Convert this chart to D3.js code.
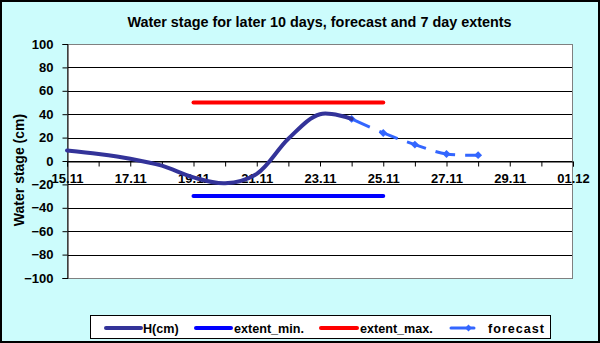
<!DOCTYPE html>
<html>
<head>
<meta charset="utf-8">
<script src="https://cdn.jsdelivr.net/npm/d3@7"></script>
<style>
  body { margin: 0; background: #fff; }
  svg { display: block; font-family: "Liberation Sans", Arial, sans-serif; font-weight: bold; }
</style>
</head>
<body>
<div id="chart"></div>
<script>
// Water stage chart: observed H, 7 day extents and forecast

const hDates = ["2010-11-15", "2010-11-16", "2010-11-17", "2010-11-18", "2010-11-19",
                "2010-11-20", "2010-11-21", "2010-11-22", "2010-11-23", "2010-11-24"];
const hValues = [9, 6, 2, -4, -14, -19, -11, 19, 40, 36];

const forecastDates = ["2010-11-24", "2010-11-25", "2010-11-26", "2010-11-27", "2010-11-28"];
const forecastValues = [36, 24, 14, 6, 5];

const extentDates = ["2010-11-19", "2010-11-25"];
const extentMin = [-30, -30];
const extentMax = [50, 50];

const yTicks = [100, 80, 60, 40, 20, 0, -20, -40, -60, -80, -100];
const xDomain = ["2010-11-15", "2010-12-01"];

const parse = d3.timeParse("%Y-%m-%d");

function createVisualization() {
    const svgWidth = 600;
    const svgHeight = 343;
    const plot = { left: 67, right: 573, top: 44, bottom: 278 };

    const svg = d3.select("#chart")
        .append("svg")
        .attr("width", svgWidth)
        .attr("height", svgHeight);

    // Background
    svg.append("rect")
        .attr("x", 1).attr("y", 1)
        .attr("width", svgWidth - 2).attr("height", svgHeight - 2)
        .attr("fill", "#ccfcfc")
        .attr("stroke", "#000")
        .attr("stroke-width", 2);

    // Scales
    const x = d3.scaleTime()
        .domain(xDomain.map(parse))
        .range([plot.left, plot.right]);

    const y = d3.scaleLinear()
        .domain([-100, 100])
        .range([plot.bottom, plot.top]);

    // Plot area
    svg.append("rect")
        .attr("x", plot.left).attr("y", plot.top)
        .attr("width", plot.right - plot.left)
        .attr("height", plot.bottom - plot.top)
        .attr("fill", "#fff");

    // Gridlines
    svg.append("g")
        .selectAll("line")
        .data(yTicks)
        .enter().append("line")
        .attr("x1", plot.left).attr("x2", plot.right)
        .attr("y1", d => Math.round(y(d)) + 0.5)
        .attr("y2", d => Math.round(y(d)) + 0.5)
        .attr("stroke", "#000");

    // Plot border
    svg.append("rect")
        .attr("x", plot.left + 0.5).attr("y", plot.top + 0.5)
        .attr("width", plot.right - plot.left - 1)
        .attr("height", plot.bottom - plot.top)
        .attr("fill", "none")
        .attr("stroke", "#808080");

    // Y axis
    const yAxis = d3.axisLeft(y)
        .tickValues(yTicks)
        .tickSize(5)
        .tickPadding(9);

    const gy = svg.append("g")
        .attr("transform", `translate(${plot.left + 0.5},0)`)
        .call(yAxis);
    gy.select(".domain").attr("stroke", "#000");
    gy.selectAll(".tick line").attr("stroke", "#000");
    gy.selectAll("text")
        .attr("font-family", "Liberation Sans, Arial, sans-serif")
        .attr("font-weight", "bold")
        .attr("font-size", 13)
        .attr("fill", "#000");

    // X axis on the zero line
    const xAxis = d3.axisBottom(x)
        .ticks(d3.timeDay.every(1))
        .tickSize(5)
        .tickPadding(7)
        .tickFormat((d, i) => i % 2 === 0 ? d3.timeFormat("%d.%m")(d) : "");

    const gx = svg.append("g")
        .attr("transform", `translate(0,${Math.round(y(0)) + 0.5})`)
        .call(xAxis);
    gx.select(".domain").attr("stroke", "#000");
    gx.selectAll(".tick line").attr("stroke", "#000");
    gx.selectAll("text")
        .attr("font-family", "Liberation Sans, Arial, sans-serif")
        .attr("font-weight", "bold")
        .attr("font-size", 13)
        .attr("fill", "#000");

    // Lines
    const hData = hDates.map((d, i) => ({ date: parse(d), value: hValues[i] }));
    const fData = forecastDates.map((d, i) => ({ date: parse(d), value: forecastValues[i] }));
    const minData = extentDates.map((d, i) => ({ date: parse(d), value: extentMin[i] }));
    const maxData = extentDates.map((d, i) => ({ date: parse(d), value: extentMax[i] }));

    const smooth = d3.line()
        .x(d => x(d.date))
        .y(d => y(d.value))
        .curve(d3.curveCatmullRom.alpha(0.5));

    const straight = d3.line()
        .x(d => x(d.date))
        .y(d => y(d.value));

    svg.append("path")
        .datum(maxData)
        .attr("d", straight)
        .attr("fill", "none")
        .attr("stroke", "#ff0000")
        .attr("stroke-width", 4)
        .attr("stroke-linecap", "round");

    svg.append("path")
        .datum(minData)
        .attr("d", straight)
        .attr("fill", "none")
        .attr("stroke", "#0000ff")
        .attr("stroke-width", 4)
        .attr("stroke-linecap", "round");

    svg.append("path")
        .datum(fData)
        .attr("d", smooth)
        .attr("fill", "none")
        .attr("stroke", "#3366ff")
        .attr("stroke-width", 3)
        .attr("stroke-dasharray", "20,10");

    svg.selectAll(".diamond")
        .data(fData)
        .enter().append("path")
        .attr("class", "diamond")
        .attr("transform", d => `translate(${x(d.date)},${y(d.value)})`)
        .attr("d", d3.symbol(d3.symbolDiamond2, 40))
        .attr("fill", "#3366ff");

    svg.append("path")
        .datum(hData)
        .attr("d", smooth)
        .attr("fill", "none")
        .attr("stroke", "#333399")
        .attr("stroke-width", 4)
        .attr("stroke-linecap", "round");

    // Title
    svg.append("text")
        .attr("x", 319.5).attr("y", 27)
        .attr("text-anchor", "middle")
        .attr("font-size", 14.4)
        .text("Water stage for later 10 days, forecast and 7 day  extents");

    // Y label
    svg.append("text")
        .attr("transform", "translate(24,170) rotate(-90)")
        .attr("text-anchor", "middle")
        .attr("font-size", 14)
        .text("Water stage (cm)");

    // Legend
    const legend = svg.append("g");
    legend.append("rect")
        .attr("x", 90.5).attr("y", 315.5)
        .attr("width", 460).attr("height", 23)
        .attr("fill", "#fff")
        .attr("stroke", "#000");

    const items = [
        { name: "H(cm)", color: "#333399", x1: 106, x2: 141, tx: 143 },
        { name: "extent_min.", color: "#0000ff", x1: 196, x2: 231, tx: 234 },
        { name: "extent_max.", color: "#ff0000", x1: 321, x2: 357, tx: 360 },
        { name: "forecast", color: "#3366ff", x1: 451, x2: 474, tx: 488, marker: true }
    ];
    const ly = 328;
    items.forEach(it => {
        legend.append("line")
            .attr("x1", it.x1).attr("x2", it.x2)
            .attr("y1", ly).attr("y2", ly)
            .attr("stroke", it.color)
            .attr("stroke-width", it.marker ? 3 : 4)
            .attr("stroke-linecap", "round");
        if (it.marker) {
            legend.append("path")
                .attr("transform", `translate(${(it.x1 + it.x2) / 2 + 6},${ly})`)
                .attr("d", d3.symbol(d3.symbolDiamond2, 30))
                .attr("fill", it.color);
        }
        legend.append("text")
            .attr("x", it.tx).attr("y", ly + 4.5)
            .attr("font-size", 12.6)
            .attr("letter-spacing", it.marker ? 1 : 0)
            .text(it.name);
    });
}

createVisualization();
</script>
</body>
</html>
